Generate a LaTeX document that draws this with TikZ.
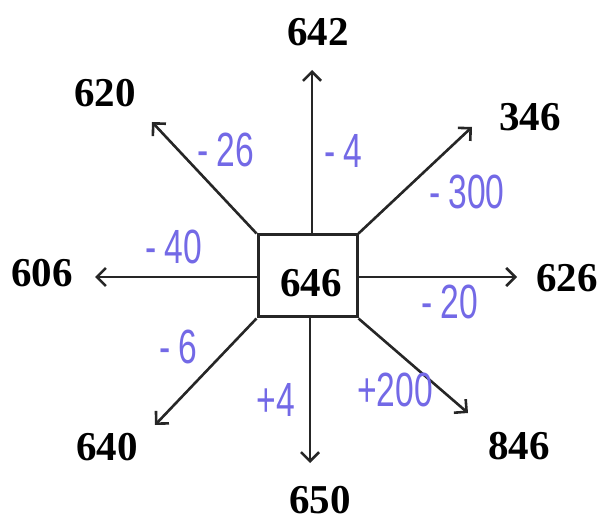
\documentclass[tikz,border=0pt]{standalone}
\usepackage{fontspec}
\setmainfont{Liberation Serif}
\newfontfamily\hand[FakeStretch=0.7]{Liberation Sans}
\usetikzlibrary{arrows.meta}
\definecolor{penblue}{RGB}{115,105,230}
\tikzset{
  conn/.style={line width=2.6pt, draw=black!85, -{Straight Barb[length=9pt,width=18pt,line width=2.6pt]}},
  num/.style={font=\bfseries\fontsize{41}{41}\selectfont, inner sep=0pt},
  diff/.style={font=\hand\fontsize{48}{48}\selectfont, text=penblue, inner sep=0pt},
  centrebox/.style={draw=black!85, line width=3pt, minimum width=99pt, minimum height=82pt, inner sep=0pt}
}
\begin{document}
\begin{tikzpicture}[x=1pt,y=-1pt]
\useasboundingbox (0,0) rectangle (606,524);
\node[centrebox] (c) at (307.5,276) {};
\node[num] (m) at (311,283) {646};
% arrow tips
\coordinate (tN) at (312,70);
\coordinate (tS) at (310,463);
\coordinate (tW) at (95,277);
\coordinate (tE) at (517,277);
\coordinate (tNW) at (152,122);
\coordinate (tNE) at (472,127);
\coordinate (tSW) at (155,425);
\coordinate (tSE) at (468,413);
% connectors
\draw[conn] (c.north -| tN) -- (tN);
\draw[conn] (c.south -| tS) -- (tS);
\draw[conn] (c.west |- tW) -- (tW);
\draw[conn] (c.east |- tE) -- (tE);
\draw[conn] (c.north west) -- (tNW);
\draw[conn] (c.north east) -- (tNE);
\draw[conn] (c.south west) -- (tSW);
\draw[conn] (c.south east) -- (tSE);
% outer numbers
\node[num] (n642) at (318,32) {642};
\node[num] (n650) at (320,500) {650};
\node[num] (n606) at (42,273) {606};
\node[num] (n626) at (567,278) {626};
\node[num] (n620) at (105,93) {620};
\node[num] (n346) at (530,117) {346};
\node[num] (n640) at (107,447) {640};
\node[num] (n846) at (519,446) {846};
% differences
\node[diff] (d1) at (226,150) {-\,26};
\node[diff] (d2) at (343,151) {-\,4};
\node[diff] (d3) at (467,192) {-\,300};
\node[diff] (d4) at (174,247) {-\,40};
\node[diff] (d5) at (450,302) {-\,20};
\node[diff] (d6) at (178,347) {-\,6};
\node[diff] (d7) at (276,400) {+4};
\node[diff] (d8) at (395,390) {+200};
\end{tikzpicture}
\end{document}
